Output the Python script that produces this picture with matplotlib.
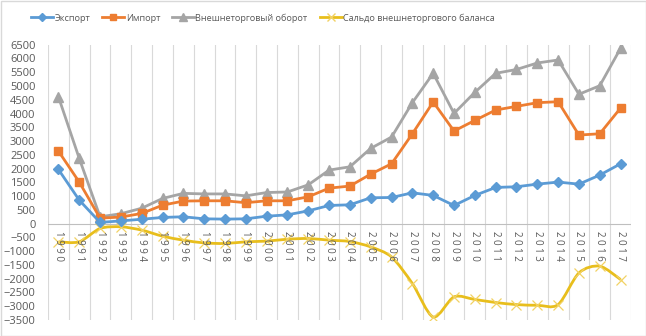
import matplotlib.pyplot as plt
import matplotlib as mpl
import numpy as np
from matplotlib.path import Path
from matplotlib.patches import PathPatch, Rectangle
from matplotlib.lines import Line2D

plt.rcParams["font.family"] = ["Open Sans", "DejaVu Sans"]

years = [str(y) for y in range(1990, 2018)]

export = [1970, 855, 45, 100, 160, 225, 250, 175, 165, 175, 270, 320, 465, 660,
          685, 940, 950, 1120, 1025, 660, 1025, 1315, 1340, 1435, 1510, 1435, 1765, 2175]
imports = [2636, 1510, 200, 240, 370, 670, 820, 830, 830, 760, 830, 830, 975, 1290,
           1365, 1800, 2175, 3265, 4420, 3365, 3750, 4127, 4260, 4393, 4430, 3218, 3265, 4200]
turnover = [4610, 2370, 250, 360, 560, 915, 1100, 1080, 1080, 1010, 1130, 1150, 1410, 1945,
            2065, 2735, 3145, 4395, 5460, 4005, 4770, 5460, 5600, 5836, 5945, 4700, 5010, 6370]
balance = [-660, -660, -175, -115, -235, -455, -600, -700, -720, -660, -635, -565, -540, -600,
           -650, -845, -1210, -2175, -3390, -2660, -2755, -2865, -2940, -2965, -2940, -1790, -1545, -2030]

labels = ["Экспорт", "Импорт", "Внешнеторговый оборот", "Сальдо внешнеторгового баланса"]
colors = ["#5B9BD5", "#ED7D31", "#A5A5A5", "#E8BE1C"]

W, H = 646, 336
fig = plt.figure(figsize=(W / 100, H / 100), dpi=100)
ax = fig.add_axes([48 / W, (H - 320) / H, (631 - 48) / W, (320 - 44.7) / H])

x = np.arange(len(years))

def smooth_path(xs, ys, tension=1 / 7):
	# Catmull-Rom style bezier through the points, like a smoothed office line
	verts = [(xs[0], ys[0])]
	codes = [Path.MOVETO]
	n = len(xs)
	for i in range(n - 1):
		p0 = (xs[max(i - 1, 0)], ys[max(i - 1, 0)])
		p1 = (xs[i], ys[i])
		p2 = (xs[i + 1], ys[i + 1])
		p3 = (xs[min(i + 2, n - 1)], ys[min(i + 2, n - 1)])
		c1 = (p1[0] + (p2[0] - p0[0]) * tension, p1[1] + (p2[1] - p0[1]) * tension)
		c2 = (p2[0] - (p3[0] - p1[0]) * tension, p2[1] - (p3[1] - p1[1]) * tension)
		verts += [c1, c2, p2]
		codes += [Path.CURVE4] * 3
	return Path(verts, codes)

for b in np.arange(-0.5, len(years), 1.0):
	ax.axvline(b, color="#D9D9D9", lw=0.8, zorder=0)
ax.axhline(0, color="#BFBFBF", lw=0.8, zorder=1)

ax.plot(x, turnover, color=colors[2], lw=2, marker="^", ms=7, zorder=3)
ax.plot(x, imports, color=colors[1], lw=2, marker="s", ms=6, zorder=4)
ax.plot(x, export, color=colors[0], lw=2, marker="D", ms=5, zorder=5)
ax.add_patch(PathPatch(smooth_path(x, balance), fill=False, edgecolor=colors[3], lw=2, zorder=3))
ax.plot(x, balance, ls="none", marker="x", ms=7, mew=0.9, color="#F2D264", zorder=3)

ax.set_xlim(-0.5, len(years) - 0.5)
ax.set_ylim(-3500, 6500)
ax.set_yticks(range(-3500, 6501, 500))
ax.set_xticks([])
ax.tick_params(axis="y", length=0, labelsize=8, labelcolor="#595959", pad=9)
for s in ax.spines.values():
	s.set_visible(False)

# year labels run downwards from the zero line, digits spaced apart
for i, yr in enumerate(years):
	ax.annotate(" ".join(yr), (i, 0), xytext=(0, -5), textcoords="offset points",
		rotation=270, ha="center", va="top", fontsize=7, color="#595959")

handles = [
	Line2D([], [], color=colors[0], lw=2, marker="D", ms=4),
	Line2D([], [], color=colors[1], lw=2, marker="s", ms=5),
	Line2D([], [], color=colors[2], lw=2, marker="^", ms=6),
	Line2D([], [], color=colors[3], lw=2, marker="x", ms=6, mec="#F2D264"),
]
fig.legend(handles, labels, loc="center", bbox_to_anchor=(263 / W, 1 - 18 / H), ncol=4,
	frameon=False, fontsize=6.6, labelcolor="#595959", handlelength=2.4, handletextpad=0.15,
	columnspacing=1.3)

fig.add_artist(Rectangle((0.5 / W, 0.5 / H), 1 - 1 / W, 1 - 1 / H, transform=fig.transFigure,
	fill=False, edgecolor="#D9D9D9", lw=1))

fig.savefig("out.png", dpi=100)
